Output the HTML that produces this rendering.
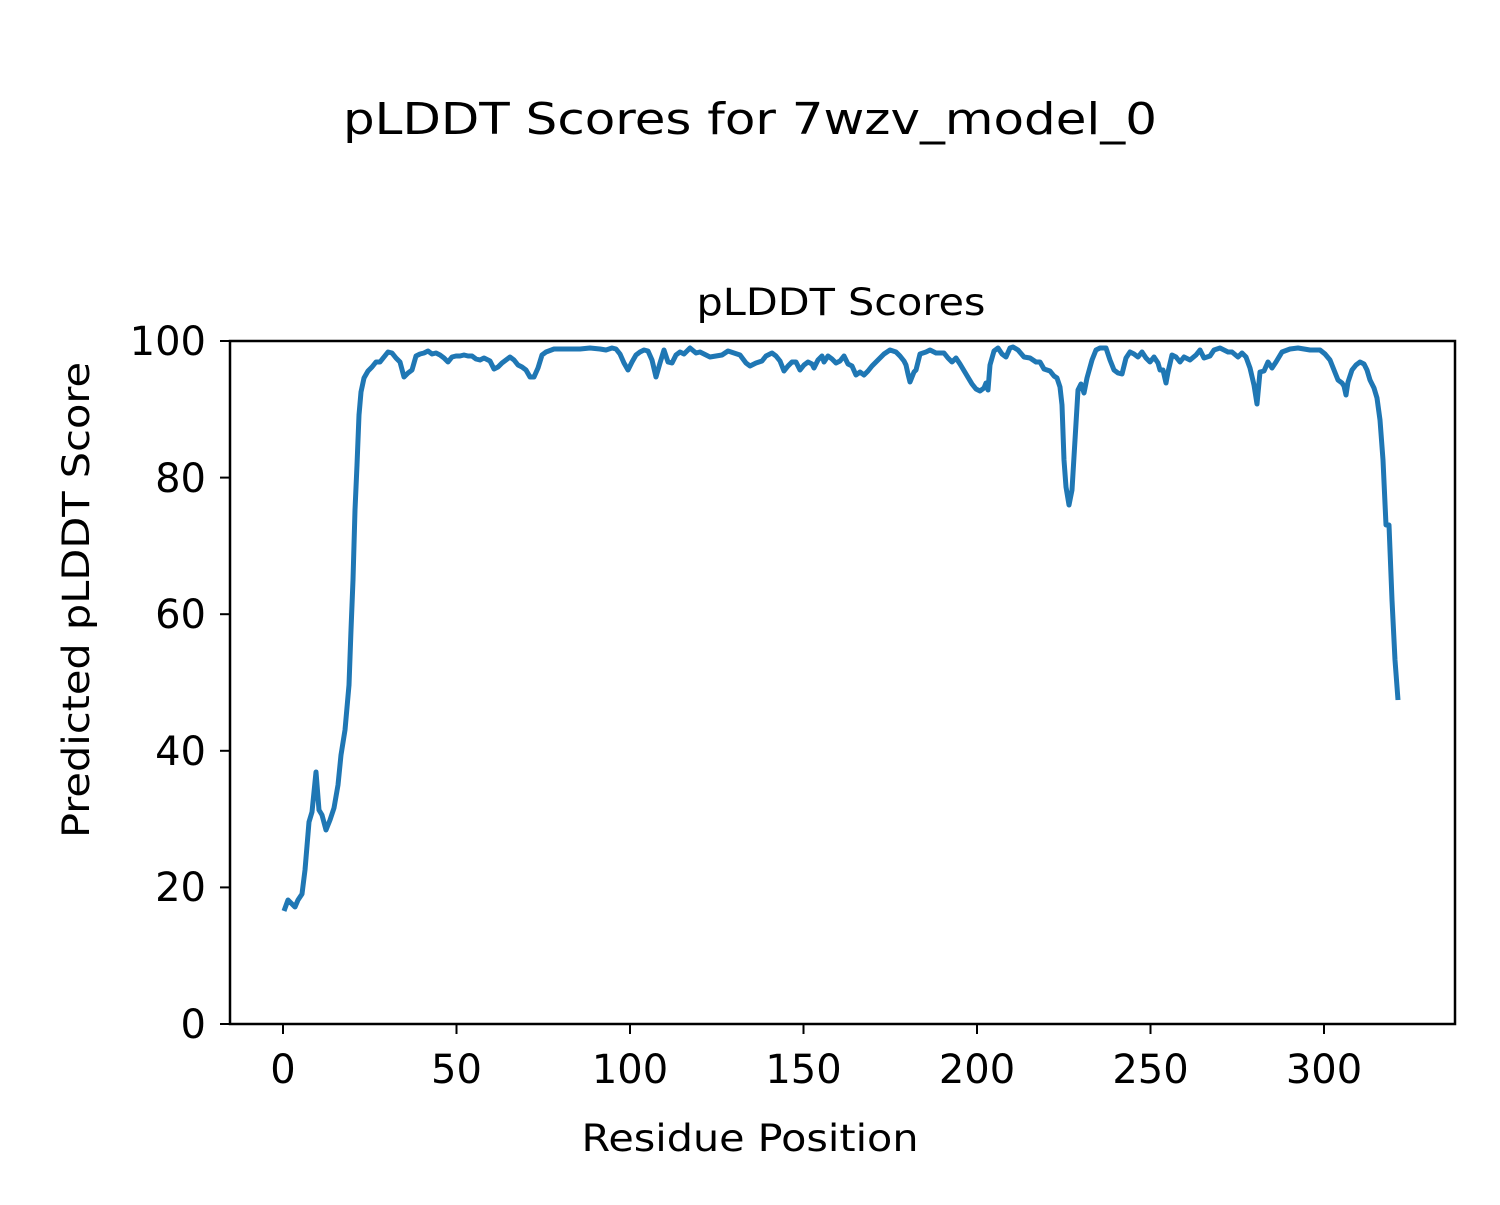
<!DOCTYPE html>
<html><head><meta charset="utf-8"><style>html,body{margin:0;padding:0;background:#fff}</style></head>
<body>
<svg width="1500" height="1200" viewBox="0 0 1500 1200" xmlns="http://www.w3.org/2000/svg" font-family="DejaVu Sans, Liberation Sans, sans-serif">
<rect width="1500" height="1200" fill="#fff"/>
<text x="750" y="134" font-size="44" text-anchor="middle" textLength="814" lengthAdjust="spacingAndGlyphs">pLDDT Scores for 7wzv_model_0</text>
<text x="841" y="315" font-size="37" text-anchor="middle" textLength="289" lengthAdjust="spacingAndGlyphs">pLDDT Scores</text>
<polyline fill="none" stroke="#1f77b4" stroke-width="5" stroke-linejoin="round" points="284,911 288,900 292,904 295,907 298,900 302,894 305,870 309,822 312,812 316,772 319,810 322,815 326,830 330,820 334,808 338,785 341,755 345,730 349,685 351,630 353,580 355,510 357,465 359,415 361,392 364,378 368,371 372,367 376,362 380,362 384,357 388,352 392,353 396,358 400,362 404,377 408,373 412,370 416,356 420,354 424,353 428,351 432,354 436,353 440,355 444,358 448,362 452,357 456,356 460,356 464,355 468,356 472,356 476,359 480,360 484,358 490,361 494,369 498,367 502,363 506,360 510,357 514,360 518,365 522,367 526,370 530,377 534,377 538,368 542,355 546,352 554,349 562,349 570,349 580,349 590,348 600,349 606,350 612,348 616,349 620,354 624,363 628,370 632,362 636,355 640,352 644,350 648,351 652,360 656,377 660,363 664,350 668,362 672,363 676,355 680,352 684,354 690,348 696,353 700,352 704,354 710,357 716,356 722,355 728,351 734,353 740,355 746,363 750,366 756,363 762,361 766,356 772,353 776,356 780,361 784,371 788,366 792,362 796,362 800,370 804,365 808,362 812,364 814,368 818,360 822,356 824,362 828,356 832,359 836,363 840,361 844,356 848,364 852,366 856,375 860,372 864,375 868,371 872,366 876,362 880,358 884,354 890,350 896,352 900,356 904,361 906,365 908,374 910,382 914,372 916,370 920,354 926,352 930,350 936,353 944,353 948,358 952,362 956,358 960,364 966,374 972,384 976,389 980,391 984,388 986,383 988,390 990,365 994,351 998,348 1002,354 1006,357 1010,348 1013,347 1018,350 1024,357 1030,358 1036,362 1040,362 1044,369 1047,370 1050,371 1054,376 1057,378 1060,387 1062,405 1064,460 1066,487 1069,505 1072,490 1075,440 1078,390 1081,384 1084,393 1087,378 1092,360 1096,350 1100,348 1106,348 1110,360 1114,370 1118,373 1122,374 1126,358 1130,352 1134,354 1138,357 1142,352 1146,358 1150,362 1154,357 1158,363 1160,370 1163,370 1166,383 1168,372 1172,355 1176,357 1180,362 1184,357 1190,360 1196,355 1200,350 1204,358 1210,356 1214,350 1220,348 1228,352 1232,352 1238,357 1242,353 1246,357 1250,368 1254,385 1257,404 1260,372 1264,371 1268,362 1272,368 1276,362 1282,352 1290,349 1298,348 1310,350 1320,350 1325,354 1330,360 1334,370 1338,380 1342,383 1344,386 1346,395 1348,382 1352,370 1356,365 1360,362 1364,364 1367,370 1370,380 1374,388 1377,398 1380,420 1383,460 1386,525 1389,525 1392,600 1395,660 1398,700"/>
<rect x="230" y="341" width="1225" height="683" fill="none" stroke="#000" stroke-width="2.5"/>
<g stroke="#000" stroke-width="2">
<line x1="283" y1="1024" x2="283" y2="1034"/><line x1="456.5" y1="1024" x2="456.5" y2="1034"/><line x1="630" y1="1024" x2="630" y2="1034"/><line x1="803.5" y1="1024" x2="803.5" y2="1034"/><line x1="977" y1="1024" x2="977" y2="1034"/><line x1="1150.5" y1="1024" x2="1150.5" y2="1034"/><line x1="1324" y1="1024" x2="1324" y2="1034"/>
<line x1="220" y1="1024" x2="230" y2="1024"/><line x1="220" y1="887.4" x2="230" y2="887.4"/><line x1="220" y1="750.8" x2="230" y2="750.8"/><line x1="220" y1="614.2" x2="230" y2="614.2"/><line x1="220" y1="477.6" x2="230" y2="477.6"/><line x1="220" y1="341" x2="230" y2="341"/>
</g>
<g font-size="40" text-anchor="middle">
<text x="283" y="1083">0</text><text x="456.5" y="1083">50</text><text x="630" y="1083">100</text><text x="803.5" y="1083">150</text><text x="977" y="1083">200</text><text x="1150.5" y="1083">250</text><text x="1324" y="1083">300</text>
</g>
<g font-size="40" text-anchor="end">
<text x="206" y="1038">0</text><text x="206" y="901">20</text><text x="206" y="765">40</text><text x="206" y="628">60</text><text x="206" y="492">80</text><text x="206" y="355">100</text>
</g>
<text x="750" y="1151" font-size="37" text-anchor="middle" textLength="337" lengthAdjust="spacingAndGlyphs">Residue Position</text>
<text transform="translate(89,600) rotate(-90)" font-size="37" text-anchor="middle" textLength="476" lengthAdjust="spacingAndGlyphs">Predicted pLDDT Score</text>
</svg>
</body></html>
